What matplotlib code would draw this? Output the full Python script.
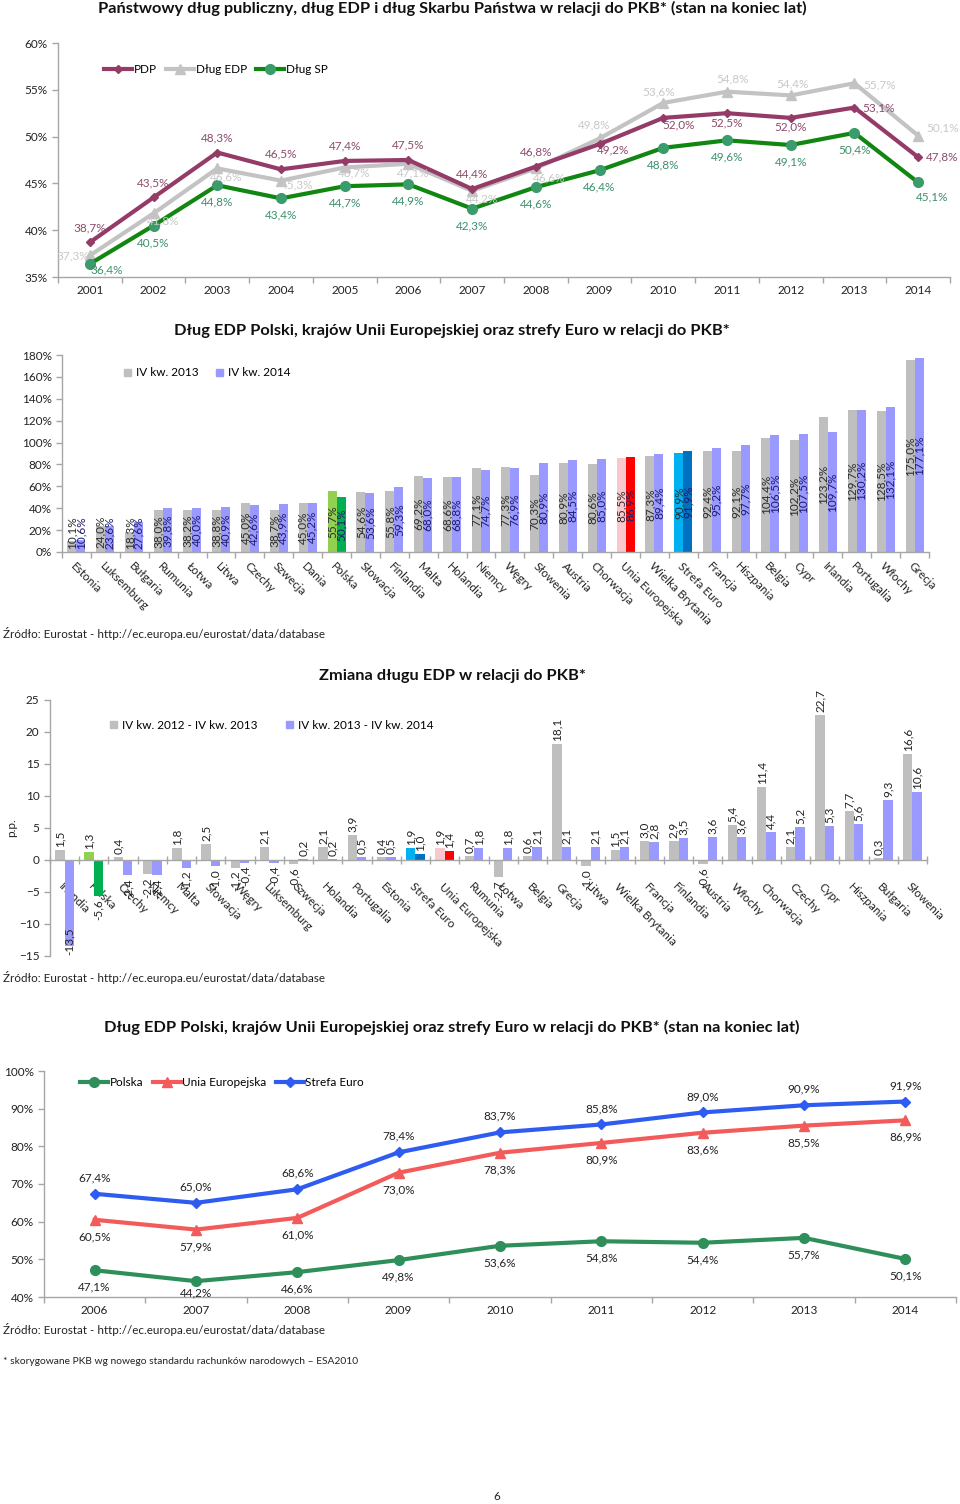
import matplotlib
matplotlib.use('Agg')
import matplotlib.pyplot as plt
import numpy as np
from matplotlib.lines import Line2D
from matplotlib.patches import Patch

plt.rcParams['font.family'] = ['Lato', 'DejaVu Sans']

# ---------------- data ----------------
years1 = ['2001', '2002', '2003', '2004', '2005', '2006', '2007',
          '2008', '2009', '2010', '2011', '2012', '2013', '2014']
pdp = [38.7, 43.5, 48.3, 46.5, 47.4, 47.5, 44.4, 46.8, 49.2, 52.0, 52.5, 52.0, 53.1, 47.8]
edp = [37.3, 41.8, 46.6, 45.3, 46.7, 47.1, 44.2, 46.6, 49.8, 53.6, 54.8, 54.4, 55.7, 50.1]
sp = [36.4, 40.5, 44.8, 43.4, 44.7, 44.9, 42.3, 44.6, 46.4, 48.8, 49.6, 49.1, 50.4, 45.1]

countries2 = ['Estonia', 'Luksemburg', 'Bułgaria', 'Rumunia', 'Łotwa', 'Litwa', 'Czechy',
              'Szwecja', 'Dania', 'Polska', 'Słowacja', 'Finlandia', 'Malta', 'Holandia',
              'Niemcy', 'Węgry', 'Słowenia', 'Austria', 'Chorwacja', 'Unia Europejska',
              'Wielka Brytania', 'Strefa Euro', 'Francja', 'Hiszpania', 'Belgia', 'Cypr',
              'Irlandia', 'Portugalia', 'Włochy', 'Grecja']
edp_q4_2013 = [10.1, 24.0, 18.3, 38.0, 38.2, 38.8, 45.0, 38.7, 45.0, 55.7, 54.6, 55.8, 69.2,
               68.6, 77.1, 77.3, 70.3, 80.9, 80.6, 85.5, 87.3, 90.9, 92.4, 92.1, 104.4,
               102.2, 123.2, 129.7, 128.5, 175.0]
edp_q4_2014 = [10.6, 23.6, 27.6, 39.8, 40.0, 40.9, 42.6, 43.9, 45.2, 50.1, 53.6, 59.3, 68.0,
               68.8, 74.7, 76.9, 80.9, 84.5, 85.0, 86.9, 89.4, 91.9, 95.2, 97.7, 106.5,
               107.5, 109.7, 130.2, 132.1, 177.1]

countries3 = ['Irlandia', 'Polska', 'Czechy', 'Niemcy', 'Malta', 'Słowacja', 'Węgry',
              'Luksemburg', 'Szwecja', 'Holandia', 'Portugalia', 'Estonia', 'Strefa Euro',
              'Unia Europejska', 'Rumunia', 'Łotwa', 'Belgia', 'Grecja', 'Litwa',
              'Wielka Brytania', 'Francja', 'Finlandia', 'Austria', 'Włochy', 'Chorwacja',
              'Czechy', 'Cypr', 'Hiszpania', 'Bułgaria', 'Słowenia']
chg_2012_2013 = [1.5, 1.3, 0.4, -2.2, 1.8, 2.5, -1.2, 2.1, -0.6, 2.1, 3.9, 0.4, 1.9, 1.9,
                 0.7, -2.7, 0.6, 18.1, -1.0, 1.5, 3.0, 2.9, -0.6, 5.4, 11.4, 2.1, 22.7,
                 7.7, 0.3, 16.6]
chg_2013_2014 = [-13.5, -5.6, -2.4, -2.4, -1.2, -1.0, -0.4, -0.4, 0.2, 0.2, 0.5, 0.5, 1.0,
                 1.4, 1.8, 1.8, 2.1, 2.1, 2.1, 2.1, 2.8, 3.5, 3.6, 3.6, 4.4, 5.2, 5.3, 5.6,
                 9.3, 10.6]

years4 = ['2006', '2007', '2008', '2009', '2010', '2011', '2012', '2013', '2014']
polska = [47.1, 44.2, 46.6, 49.8, 53.6, 54.8, 54.4, 55.7, 50.1]
unia = [60.5, 57.9, 61.0, 73.0, 78.3, 80.9, 83.6, 85.5, 86.9]
strefa = [67.4, 65.0, 68.6, 78.4, 83.7, 85.8, 89.0, 90.9, 91.9]

# ---------------- helpers ----------------
W, H = 960, 1504
GRAY_AX = '#a6a6a6'
TXT = '#222222'
FS = 8.5


def fmt(v, pct=True):
    s = f"{v:.1f}".replace('.', ',')
    return s + '%' if pct else s


def box(l, t, r, b):
    return [l / W, 1 - b / H, (r - l) / W, (b - t) / H]


def style_axes(ax):
    for s in ['top', 'right']:
        ax.spines[s].set_visible(False)
    for s in ['left', 'bottom']:
        ax.spines[s].set_color(GRAY_AX)
        ax.spines[s].set_linewidth(1.0)
    ax.tick_params(axis='both', colors=GRAY_AX, labelcolor=TXT, labelsize=FS, length=4, width=1)


def cat_ticks(ax, n):
    ax.set_xticks(np.arange(n))
    ax.tick_params(axis='x', which='major', length=0)
    ax.set_xticks(np.arange(n + 1) - 0.5, minor=True)
    ax.tick_params(axis='x', which='minor', length=4, color=GRAY_AX, width=1)


fig = plt.figure(figsize=(W / 100, H / 100), dpi=100)
fig.patch.set_facecolor('white')

# ================= Chart 1 =================
fig.text(452 / W, 1 - 8 / H,
         'Państwowy dług publiczny, dług EDP i dług Skarbu Państwa w relacji do PKB* (stan na koniec lat)',
         ha='center', va='center', fontsize=11.8, fontweight='bold', color='#111111')
ax1 = fig.add_axes(box(58, 43, 950, 277))
style_axes(ax1)
x1 = np.arange(len(years1))
c_pdp, c_edp, c_sp, c_spm = '#953b68', '#c3c3c3', '#118611', '#3a9b6b'
ax1.plot(x1, edp, color=c_edp, lw=3, marker='^', ms=7, zorder=2)
ax1.plot(x1, pdp, color=c_pdp, lw=3, marker='D', ms=4.5, zorder=3)
ax1.plot(x1, sp, color=c_sp, lw=3, marker='o', ms=7, mfc=c_spm, mec=c_spm, zorder=4)
ax1.set_xlim(-0.5, len(years1) - 0.5)
ax1.set_ylim(35, 60)
ax1.set_yticks(np.arange(35, 61, 5))
ax1.set_yticklabels([f"{v}%" for v in range(35, 61, 5)])
cat_ticks(ax1, len(years1))
ax1.set_xticklabels(years1)
ax1.tick_params(axis='x', which='major', pad=6)

off_pdp = [(0, 14), (0, 15), (0, 15), (0, 15), (0, 15), (0, 15), (0, 15), (0, 15),
           (14, -6), (15, -7), (0, -10), (0, -9), (24, 0), (24, 0)]
off_edp = [(-17, 0), (10, -8), (9, -8), (16, -4), (9, -5), (5, -9), (10, -8), (13, -9),
           (-5, 14), (-5, 11), (6, 13), (2, 11), (25, -2), (24, 8)]
off_sp = [(17, -6)] + [(0, -17)] * 12 + [(14, -14)]
for vals, offs, col in [(pdp, off_pdp, '#8c4a6c'), (edp, off_edp, '#c8c8c8'), (sp, off_sp, '#3d8f6a')]:
    for i, v in enumerate(vals):
        ax1.annotate(fmt(v), (x1[i], v), xytext=offs[i], textcoords='offset pixels',
                     ha='center', va='center', fontsize=FS, color=col, zorder=6)

h1 = [Line2D([], [], color=c_pdp, lw=3, marker='D', ms=4.5),
      Line2D([], [], color=c_edp, lw=3, marker='^', ms=7),
      Line2D([], [], color=c_sp, lw=3, marker='o', ms=7, mfc=c_spm, mec=c_spm)]
ax1.legend(h1, ['PDP', 'Dług EDP', 'Dług SP'], loc='center left', bbox_to_anchor=(0.045, 0.885),
           ncol=3, frameon=False, fontsize=FS, handlelength=2.4, columnspacing=0.8,
           handletextpad=0.1, borderpad=0)

# ================= Chart 2 =================
fig.text(452 / W, 1 - 331 / H,
         'Dług EDP Polski, krajów Unii Europejskiej oraz strefy Euro w relacji do PKB*',
         ha='center', va='center', fontsize=11.8, fontweight='bold', color='#111111')
ax2 = fig.add_axes(box(62, 355, 929, 552))
style_axes(ax2)
n2 = len(countries2)
x2 = np.arange(n2)
bw = 0.31
gray, blue = '#bfbfbf', '#9999ff'
special_a = {'Polska': '#92d050', 'Unia Europejska': '#f9c8cf', 'Strefa Euro': '#00b0f0'}
special_b = {'Polska': '#00b050', 'Unia Europejska': '#ff0000', 'Strefa Euro': '#0070c0'}
ca2 = [special_a.get(c, gray) for c in countries2]
cb2 = [special_b.get(c, blue) for c in countries2]
ax2.bar(x2 - bw / 2, edp_q4_2013, bw, color=ca2, zorder=2)
ax2.bar(x2 + bw / 2, edp_q4_2014, bw, color=cb2, zorder=2)
for i in range(n2):
    for dx, v, col in [(-bw / 2, edp_q4_2013[i], '#2b2b2b'), (bw / 2, edp_q4_2014[i], '#1c1c6b')]:
        ax2.text(x2[i] + dx, max(v / 2, 18), fmt(v), rotation=90, ha='center', va='center',
                 fontsize=FS, color=col, zorder=5)
ax2.set_xlim(-0.5, n2 - 0.5)
ax2.set_ylim(0, 180)
ax2.set_yticks(np.arange(0, 181, 20))
ax2.set_yticklabels([f"{v}%" for v in range(0, 181, 20)])
cat_ticks(ax2, n2)
ax2.set_xticklabels(countries2, rotation=-45, ha='left', va='top', rotation_mode='anchor')
ax2.tick_params(axis='x', which='major', pad=6)
h2 = [Patch(color=gray), Patch(color=blue)]
ax2.legend(h2, ['IV kw. 2013', 'IV kw. 2014'], loc='center left', bbox_to_anchor=(0.065, 0.909),
           ncol=2, frameon=False, fontsize=FS, handlelength=0.6, handleheight=0.6,
           columnspacing=1.5, handletextpad=0.4, borderpad=0)

fig.text(3 / W, 1 - 633 / H, 'Źródło: Eurostat - http://ec.europa.eu/eurostat/data/database',
         ha='left', va='center', fontsize=8.4, color=TXT)

# ================= Chart 3 =================
fig.text(452 / W, 1 - 676 / H, 'Zmiana długu EDP w relacji do PKB*',
         ha='center', va='center', fontsize=11.8, fontweight='bold', color='#111111')
ax3 = fig.add_axes(box(50, 700, 927, 956))
style_axes(ax3)
n3 = len(countries3)
x3 = np.arange(n3)
bw3 = 0.32
ca3 = [special_a.get(c, gray) for c in countries3]
cb3 = [special_b.get(c, blue) for c in countries3]
ax3.bar(x3 - bw3 / 2, chg_2012_2013, bw3, color=ca3, zorder=2)
ax3.bar(x3 + bw3 / 2, chg_2013_2014, bw3, color=cb3, zorder=2)
ymin3, ymax3 = -15, 25
for i in range(n3):
    for dx, v in [(-bw3 / 2, chg_2012_2013[i]), (bw3 / 2, chg_2013_2014[i])]:
        if v >= 0:
            ax3.annotate(fmt(v, pct=False), (x3[i] + dx, v), xytext=(0, 3),
                         textcoords='offset pixels', rotation=90, ha='center', va='bottom',
                         fontsize=FS, color=TXT, zorder=5)
        elif v - 3.8 < ymin3:
            # clamp inside the plot area, like the reference
            ax3.annotate(fmt(v, pct=False), (x3[i] + dx, ymin3), xytext=(0, 1),
                         textcoords='offset pixels', rotation=90, ha='center', va='bottom',
                         fontsize=FS, color=TXT, zorder=5)
        else:
            ax3.annotate(fmt(v, pct=False), (x3[i] + dx, v), xytext=(0, -3),
                         textcoords='offset pixels', rotation=90, ha='center', va='top',
                         fontsize=FS, color=TXT, zorder=5)
ax3.set_xlim(-0.5, n3 - 0.5)
ax3.set_ylim(ymin3, ymax3)
ax3.set_yticks(np.arange(-15, 26, 5))
ax3.spines['bottom'].set_position(('data', 0))
cat_ticks(ax3, n3)
ax3.tick_params(axis='x', which='minor', direction='inout', length=6)
ax3.set_xticklabels(countries3, rotation=-45, ha='left', va='top', rotation_mode='anchor')
ax3.tick_params(axis='x', which='major', pad=15)
ax3.set_ylabel('p.p.', fontsize=FS, color=TXT, labelpad=1)
h3 = [Patch(color=gray), Patch(color=blue)]
ax3.legend(h3, ['IV kw. 2012 - IV kw. 2013', 'IV kw. 2013 - IV kw. 2014'], loc='center left',
           bbox_to_anchor=(0.062, 0.902), ncol=2, frameon=False, fontsize=FS, handlelength=0.6,
           handleheight=0.6, columnspacing=2.4, handletextpad=0.4, borderpad=0)

fig.text(3 / W, 1 - 977 / H, 'Źródło: Eurostat - http://ec.europa.eu/eurostat/data/database',
         ha='left', va='center', fontsize=8.4, color=TXT)

# ================= Chart 4 =================
fig.text(452 / W, 1 - 1027 / H,
         'Dług EDP Polski, krajów Unii Europejskiej oraz strefy Euro w relacji do PKB* (stan na koniec lat)',
         ha='center', va='center', fontsize=11.8, fontweight='bold', color='#111111')
ax4 = fig.add_axes(box(44, 1071, 956, 1297))
style_axes(ax4)
x4 = np.arange(len(years4))
c_pl, c_ue, c_ez = '#2f8f5b', '#f35b5b', '#2e5cf0'
ax4.plot(x4, polska, color=c_pl, lw=3, marker='o', ms=7, zorder=3)
ax4.plot(x4, unia, color=c_ue, lw=3, marker='^', ms=7, zorder=3)
ax4.plot(x4, strefa, color=c_ez, lw=3, marker='D', ms=5, zorder=3)
ax4.set_xlim(-0.5, len(years4) - 0.5)
ax4.set_ylim(40, 100)
ax4.set_yticks(np.arange(40, 101, 10))
ax4.set_yticklabels([f"{v}%" for v in range(40, 101, 10)])
cat_ticks(ax4, len(years4))
ax4.set_xticklabels(years4)
ax4.tick_params(axis='x', which='major', pad=6)
off_pl = [-17, -12, -17, -17, -17, -17, -17, -17, -17]
for i in range(len(years4)):
    ax4.annotate(fmt(strefa[i]), (x4[i], strefa[i]), xytext=(0, 16), textcoords='offset pixels',
                 ha='center', va='center', fontsize=FS, color=TXT)
    ax4.annotate(fmt(unia[i]), (x4[i], unia[i]), xytext=(0, -17), textcoords='offset pixels',
                 ha='center', va='center', fontsize=FS, color=TXT)
    ax4.annotate(fmt(polska[i]), (x4[i], polska[i]), xytext=(0, off_pl[i]), textcoords='offset pixels',
                 ha='center', va='center', fontsize=FS, color=TXT)
h4 = [Line2D([], [], color=c_pl, lw=3, marker='o', ms=7),
      Line2D([], [], color=c_ue, lw=3, marker='^', ms=7),
      Line2D([], [], color=c_ez, lw=3, marker='D', ms=5)]
ax4.legend(h4, ['Polska', 'Unia Europejska', 'Strefa Euro'], loc='center left',
           bbox_to_anchor=(0.033, 0.947), ncol=3, frameon=False, fontsize=FS, handlelength=2.4,
           columnspacing=0.8, handletextpad=0.1, borderpad=0)

fig.text(3 / W, 1 - 1329 / H, 'Źródło: Eurostat - http://ec.europa.eu/eurostat/data/database',
         ha='left', va='center', fontsize=8.4, color=TXT)
fig.text(3 / W, 1 - 1361 / H,
         '* skorygowane PKB wg nowego standardu rachunków narodowych – ESA2010',
         ha='left', va='center', fontsize=7.4, color=TXT)
fig.text(497 / W, 1 - 1497 / H, '6', ha='center', va='center', fontsize=8.4, color=TXT)

fig.savefig('out.png', dpi=100, facecolor='white')
